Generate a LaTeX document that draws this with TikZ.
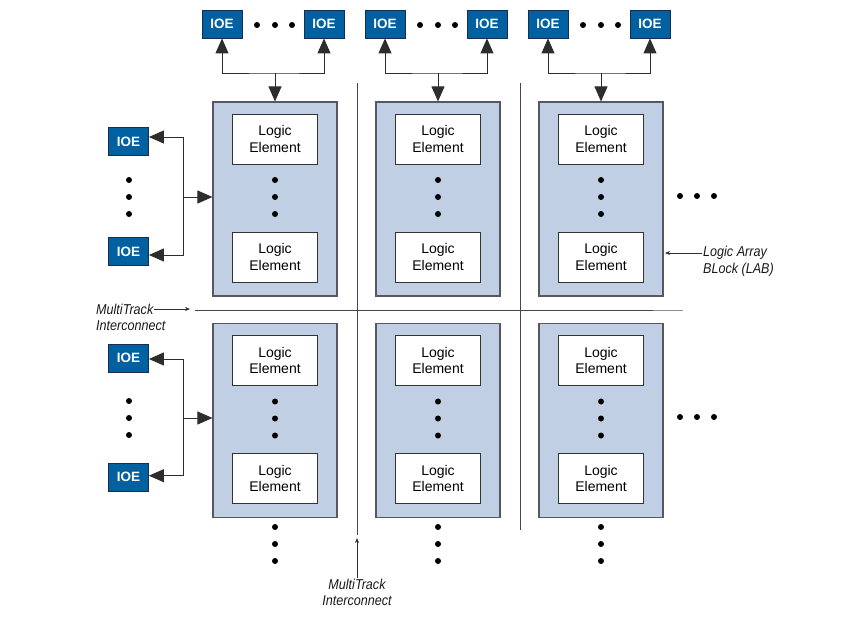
\documentclass[tikz,border=0pt]{standalone}
\usepackage{fontspec}
\setmainfont{Liberation Sans}
\newfontfamily\condfont[FakeStretch=0.88]{Liberation Sans}
\usetikzlibrary{arrows.meta}
\definecolor{ioeblue}{RGB}{0,96,160}
\definecolor{ioeedge}{RGB}{25,45,80}
\definecolor{labfill}{RGB}{192,207,228}
\definecolor{labedge}{RGB}{85,88,98}
\definecolor{lineclr}{RGB}{45,45,45}
\definecolor{trackclr}{RGB}{70,70,70}
\begin{document}
\begin{tikzpicture}[x=1pt,y=-1pt,
  ioe/.style={draw=ioeedge,line width=0.8pt,fill=ioeblue,minimum width=40pt,minimum height=28pt,inner sep=0pt,text=white,font=\fontsize{13.5}{15}\selectfont\bfseries},
  lab/.style={draw=labedge,line width=1.1pt,fill=labfill,minimum width=124pt,minimum height=194pt,inner sep=0pt},
  lelem/.style={draw=black!80,line width=1pt,fill=white,minimum width=85pt,minimum height=50pt,inner sep=0pt,align=center,font=\fontsize{14}{16.7}\selectfont},
  dotn/.style={circle,fill=black,inner sep=0pt,minimum size=6pt},
  lbl/.style={font=\condfont\itshape\fontsize{14.3}{17}\selectfont,inner sep=1pt,text=black!90},
  conn/.style={draw=lineclr,line width=0.9pt},
  bigtip/.style={-{Triangle[length=15pt,width=13pt]}},
  bothtip/.style={{Triangle[length=15pt,width=13pt]}-{Triangle[length=15pt,width=13pt]}},
  smalltip/.style={-{Stealth[length=5pt,width=4pt]}},
  track/.style={draw=trackclr,line width=1pt}
]
\useasboundingbox (0,0) rectangle (848,618);

% MultiTrack interconnect lines
\coordinate (vA1) at (357,83);  \coordinate (vA2) at (357,535);
\coordinate (vB1) at (520,83);  \coordinate (vB2) at (520,530);
\coordinate (hA1) at (195,310); \coordinate (hA2) at (653,310); \coordinate (hA3) at (683,310);
\draw[track] (vA1) -- (vA2);
\draw[track] (vB1) -- (vB2);
\draw[track] (hA1) -- (hA2);
\draw[draw=black!45,line width=1pt] (hA2) -- (hA3);

% LABs with logic elements
\foreach \c/\x in {1/275,2/438,3/601}{
  \foreach \r/\y in {1/0,2/221.5}{
    \node[lab] (lab\c\r) at (\x,199+\y) {};
    \node[lelem] (le\c\r a) at (\x,139+\y) {Logic\\Element};
    \node[lelem] (le\c\r b) at (\x,257+\y) {Logic\\Element};
    \node[dotn] (ld\c\r a) at (\x,180+\y) {};
    \node[dotn] (ld\c\r b) at (\x,197+\y) {};
    \node[dotn] (ld\c\r c) at (\x,214+\y) {};
  }
  % dots below the bottom LABs
  \node[dotn] (bd\c a) at (\x,527) {};
  \node[dotn] (bd\c b) at (\x,544) {};
  \node[dotn] (bd\c c) at (\x,561) {};
  % top IOEs
  \node[ioe] (ioeT\c a) at (\x-53,24) {IOE};
  \node[ioe] (ioeT\c b) at (\x+49,24) {IOE};
  \node[dotn] (td\c a) at (\x-18,25) {};
  \node[dotn] (td\c b) at (\x,25) {};
  \node[dotn] (td\c c) at (\x+17,25) {};
  \coordinate (tbus\c) at (\x,73);
  \draw[conn,bothtip] (ioeT\c a.south) |- (tbus\c) -| (ioeT\c b.south);
  \draw[conn,bigtip] (tbus\c) -- (lab\c1.north);
}

% left IOEs
\foreach \r/\y/\ya/\yb/\sa/\sb in {1/0/141.5/251.5/4.5/-3.5,2/221/358/477/-1/1.3}{
  \node[ioe] (ioeL\r a) at (128.5,\ya) {IOE};
  \node[ioe] (ioeL\r b) at (128.5,\yb) {IOE};
  \node[dotn] (lfd\r a) at (129,180+\y) {};
  \node[dotn] (lfd\r b) at (129,197+\y) {};
  \node[dotn] (lfd\r c) at (129,214+\y) {};
  \coordinate (lbus\r) at (183,\yb-\sb);
  \coordinate (lmid\r) at (183,197+\y);
  \draw[conn,bothtip] ([yshift=\sa pt]ioeL\r a.east) -| (lbus\r) -- ([yshift=\sb pt]ioeL\r b.east);
  \draw[conn,bigtip] (lmid\r) -- (lmid\r -| lab1\r.west);
}

% dots to the right
\foreach \r/\y in {1/196,2/417}{
  \node[dotn] (rd\r a) at (680,\y) {};
  \node[dotn] (rd\r b) at (697,\y) {};
  \node[dotn] (rd\r c) at (714,\y) {};
}

% labels
\node[lbl,anchor=west] (mtA) at (95,309) {MultiTrack};
\node[lbl,anchor=west] (mtB) at (95,325.5) {Interconnect};
\coordinate (mtTip) at (190,309);
\draw[conn,line width=0.7pt,smalltip] (mtA.east) -- (mtTip);

\node[lbl] (mvA) at (357,584) {MultiTrack};
\node[lbl] (mvB) at (357,601) {Interconnect};
\coordinate (mvTip) at (357,538);
\draw[conn,line width=0.7pt,smalltip] (mvA.north) -- (mvTip);

\node[lbl,anchor=west] (labA) at (702,253) {Logic Array};
\node[lbl,anchor=west] (labB) at (702,270) {BLock (LAB)};
\coordinate (labTip) at (665,253);
\draw[conn,line width=0.7pt,smalltip] (labA.west) -- (labTip);
\end{tikzpicture}
\end{document}
